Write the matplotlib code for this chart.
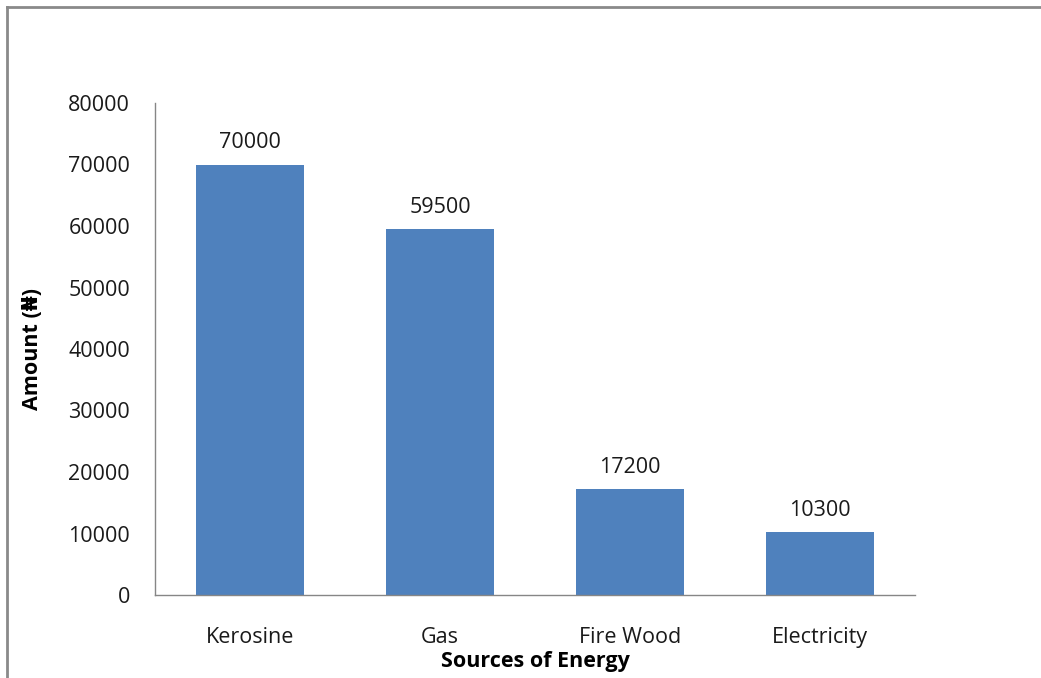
import matplotlib
matplotlib.use("Agg")
import matplotlib.pyplot as plt
from matplotlib.lines import Line2D

categories = ["Kerosine", "Gas", "Fire Wood", "Electricity"]
amounts = [70000, 59500, 17200, 10300]
yticks = [0, 10000, 20000, 30000, 40000, 50000, 60000, 70000, 80000]

plt.rcParams['font.family'] = ['Open Sans', 'DejaVu Sans']

W, H = 1041, 678
fig = plt.figure(figsize=(W / 100, H / 100), dpi=100)
ax_l, ax_r, ax_t, ax_b = 155, 915, 103, 595
ax = fig.add_axes([ax_l / W, 1 - ax_b / H, (ax_r - ax_l) / W, (ax_b - ax_t) / H])

FS = 15.5
x = range(len(categories))
ax.bar(x, amounts, width=0.57, color="#4F81BD", zorder=2)
for xi, v in zip(x, amounts):
    ax.text(xi, v + 1800, str(v), ha="center", va="bottom", fontsize=FS, color="#1a1a1a")

ax.set_xlim(-0.5, len(categories) - 0.5)
ax.set_ylim(0, 80000)
ax.set_yticks(yticks)
ax.set_yticklabels([str(t) for t in yticks], fontsize=FS, color="#1a1a1a")
ax.set_xticks(list(x))
ax.set_xticklabels(categories, fontsize=FS, color="#1a1a1a")
ax.tick_params(axis="both", length=0)
ax.tick_params(axis="y", pad=18)
ax.tick_params(axis="x", pad=23)
for s in ["top", "right"]:
    ax.spines[s].set_visible(False)
for s in ["left", "bottom"]:
    ax.spines[s].set_color("#868686")
    ax.spines[s].set_linewidth(1.0)

ax.set_ylabel("Amount (\u20a6)", fontsize=FS, fontweight="bold", va="center")
ax.yaxis.set_label_coords((33 - ax_l) / (ax_r - ax_l), 0.5)
ax.set_xlabel("Sources of Energy", fontsize=FS, fontweight="bold", va="center")
ax.xaxis.set_label_coords(0.5, -(662 - ax_b) / (ax_b - ax_t))

# outer border (left and top visible)
fig.add_artist(Line2D([7 / W, 7 / W], [0, 1 - 7 / H], color="#8a8a8a", lw=2, transform=fig.transFigure))
fig.add_artist(Line2D([7 / W, 1], [1 - 7 / H, 1 - 7 / H], color="#8a8a8a", lw=2, transform=fig.transFigure))

fig.savefig("out.png", dpi=100)
